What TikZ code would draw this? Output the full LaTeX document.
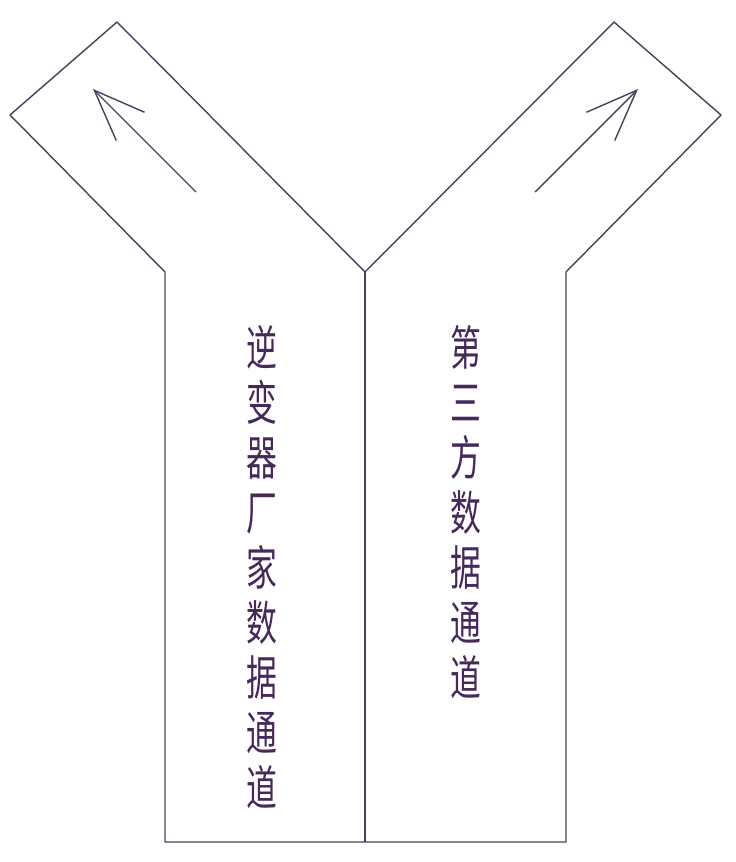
\documentclass[tikz,border=0pt]{standalone}
\usepackage{fontspec}
\usetikzlibrary{arrows.meta}
\newfontfamily\cjk[FakeStretch=0.65]{Noto Sans CJK SC}
\definecolor{myline}{RGB}{72,64,92}
\definecolor{mytext}{RGB}{70,40,90}
\tikzset{
    outline/.style={myline, line width=0.8pt, line join=round},
    flowarrow/.style={myline, line width=0.8pt, -{Straight Barb[length=1.02cm, width=0.8cm]}},
    channel/.style={text=mytext, font=\cjk\fontsize{27pt}{31.3pt}\selectfont, align=center, inner sep=0pt}
}
\begin{document}
\begin{tikzpicture}[x=0.02cm, y=-0.02cm]
    \useasboundingbox (0,0) rectangle (736,862);

    % Corner points of the Y
    \coordinate (fork) at (365,272);
    \coordinate (stem) at (365,842);

    % Outline
    \draw[outline] (165,842) -- (165,272) -- (10,115) -- (117,22) -- (fork)
        -- (614,22) -- (721,115) -- (566,272) -- (566,842) -- cycle;
    \draw[outline] (fork) -- (stem);

    % Arrows in the two arms
    \coordinate (lefttail) at (196,192);
    \coordinate (lefttip) at (93,89);
    \coordinate (righttail) at (535,192);
    \coordinate (righttip) at (638,89);
    \draw[flowarrow] (lefttail) -- (lefttip);
    \draw[flowarrow] (righttail) -- (righttip);

    % Vertical labels
    \node[channel] (inverter) at (262,567) {逆\\变\\器\\厂\\家\\数\\据\\通\\道};
    \node[channel] (thirdparty) at (466,512) {第\\三\\方\\数\\据\\通\\道};
\end{tikzpicture}
\end{document}
